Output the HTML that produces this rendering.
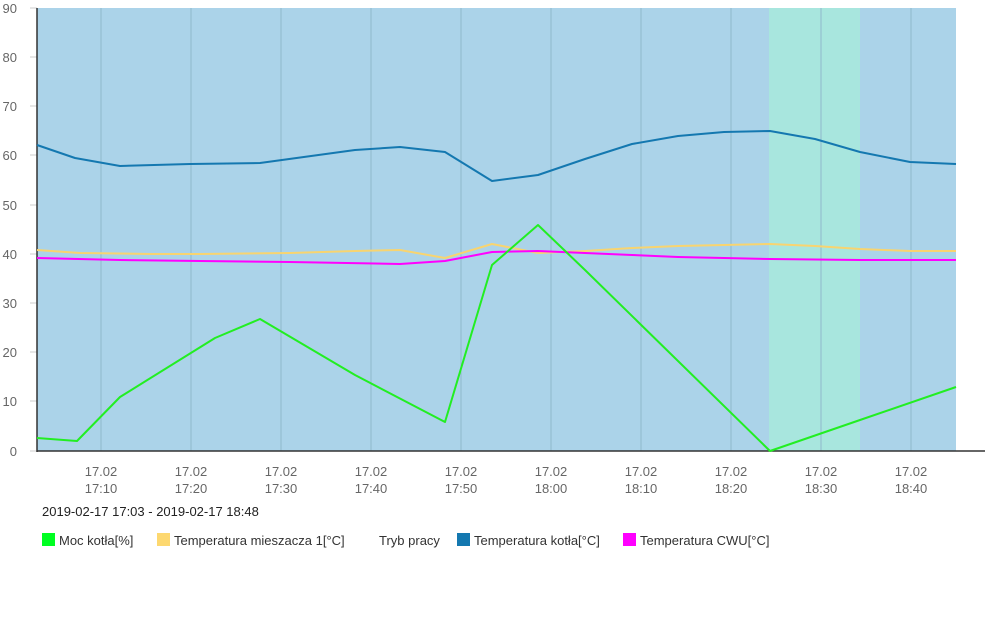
<!DOCTYPE html><html><head><style>body{margin:0;background:#fff;width:1000px;height:626px;overflow:hidden;font-family:"Liberation Sans",sans-serif}</style></head><body>
<svg width="1000" height="626" xmlns="http://www.w3.org/2000/svg" font-family="Liberation Sans, sans-serif">
<rect x="37" y="8" width="919" height="443" fill="#abd3e9"/>
<rect x="769" y="8" width="91" height="443" fill="#a8e6de"/>
<g stroke="#8fb8cc" stroke-width="1">
<line x1="101" y1="8" x2="101" y2="451"/><line x1="191" y1="8" x2="191" y2="451"/><line x1="281" y1="8" x2="281" y2="451"/><line x1="371" y1="8" x2="371" y2="451"/><line x1="461" y1="8" x2="461" y2="451"/><line x1="551" y1="8" x2="551" y2="451"/><line x1="641" y1="8" x2="641" y2="451"/><line x1="731" y1="8" x2="731" y2="451"/><line x1="821" y1="8" x2="821" y2="451"/><line x1="911" y1="8" x2="911" y2="451"/>
</g>
<g stroke="#ccc"><line x1="30" y1="8" x2="37" y2="8"/><line x1="30" y1="57" x2="37" y2="57"/><line x1="30" y1="106" x2="37" y2="106"/><line x1="30" y1="155" x2="37" y2="155"/><line x1="30" y1="205" x2="37" y2="205"/><line x1="30" y1="254" x2="37" y2="254"/><line x1="30" y1="303" x2="37" y2="303"/><line x1="30" y1="352" x2="37" y2="352"/><line x1="30" y1="401" x2="37" y2="401"/><line x1="30" y1="451" x2="37" y2="451"/></g>
<line x1="37" y1="8" x2="37" y2="452" stroke="#333" stroke-width="1.5"/>
<line x1="37" y1="451" x2="985" y2="451" stroke="#333" stroke-width="1.5"/>
<g font-size="13" fill="#666" text-anchor="end">
<text x="17" y="13">90</text><text x="17" y="62">80</text><text x="17" y="111">70</text><text x="17" y="160">60</text><text x="17" y="210">50</text><text x="17" y="259">40</text><text x="17" y="308">30</text><text x="17" y="357">20</text><text x="17" y="406">10</text><text x="17" y="456">0</text>
</g>
<g font-size="13" fill="#666" text-anchor="middle">
<text x="101" y="476">17.02</text><text x="101" y="493">17:10</text>
<text x="191" y="476">17.02</text><text x="191" y="493">17:20</text>
<text x="281" y="476">17.02</text><text x="281" y="493">17:30</text>
<text x="371" y="476">17.02</text><text x="371" y="493">17:40</text>
<text x="461" y="476">17.02</text><text x="461" y="493">17:50</text>
<text x="551" y="476">17.02</text><text x="551" y="493">18:00</text>
<text x="641" y="476">17.02</text><text x="641" y="493">18:10</text>
<text x="731" y="476">17.02</text><text x="731" y="493">18:20</text>
<text x="821" y="476">17.02</text><text x="821" y="493">18:30</text>
<text x="911" y="476">17.02</text><text x="911" y="493">18:40</text>
</g>
<g fill="none" stroke-width="2" stroke-linejoin="round">
<polyline stroke="#1478b0" points="37,145 75,158 120,166 190,164 260,163 355,150 400,147 445,152 492,181 538,175 585,159 632,144 678,136 724,132 770,131 815,139 860,152 910,162 956,164"/>
<polyline stroke="#f8d470" points="37,250 80,253 150,254 200,254 290,253 355,251 400,250 445,258 492,244 538,253 585,251 632,248 678,246 724,245 770,244 815,246 860,249 910,251 956,251"/>
<polyline stroke="#ff00ff" points="37,258 120,260 200,261 290,262 400,264 445,261 492,252 538,251 585,253 632,255 678,257 724,258 770,259 860,260 956,260"/>
<polyline stroke="#22ee22" points="37,438 77,441 120,397 215,338 260,319 355,375 445,422 492,265 538,225 585,270 770,451 860,420 956,387"/>
</g>
<text x="42" y="516" font-size="13" fill="#222">2019-02-17 17:03 - 2019-02-17 18:48</text>
<g font-size="13" fill="#333">
<rect x="42" y="533" width="13" height="13" fill="#00ff22"/><text x="59" y="545">Moc kotła[%]</text>
<rect x="157" y="533" width="13" height="13" fill="#fdd870"/><text x="174" y="545">Temperatura mieszacza 1[°C]</text>
<text x="379" y="545">Tryb pracy</text>
<rect x="457" y="533" width="13" height="13" fill="#1478b0"/><text x="474" y="545">Temperatura kotła[°C]</text>
<rect x="623" y="533" width="13" height="13" fill="#ff00ff"/><text x="640" y="545">Temperatura CWU[°C]</text>
</g>
</svg></body></html>
